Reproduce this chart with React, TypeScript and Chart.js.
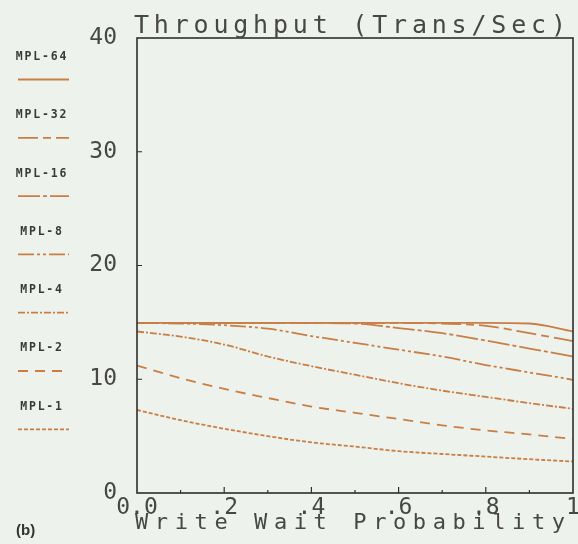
import React, { useEffect, useRef } from 'react';
import { Chart, registerables } from 'chart.js';

Chart.register(...registerables);

// ---- data ----
const xValues = [0, 0.1, 0.2, 0.3, 0.4, 0.5, 0.6, 0.7, 0.8, 0.9, 1.0];
const seriesLabels = ['MPL-64', 'MPL-32', 'MPL-16', 'MPL-8', 'MPL-4', 'MPL-2', 'MPL-1'];
const mpl64 = [14.95, 14.95, 14.95, 14.95, 14.95, 14.95, 14.95, 14.95, 14.95, 14.9, 14.2];
const mpl32 = [14.95, 14.95, 14.95, 14.95, 14.95, 14.95, 14.95, 14.9, 14.7, 14.05, 13.35];
const mpl16 = [14.95, 14.95, 14.95, 14.95, 14.95, 14.9, 14.5, 14.05, 13.4, 12.7, 12.0];
const mpl8 = [14.95, 14.9, 14.75, 14.45, 13.8, 13.2, 12.6, 12.0, 11.25, 10.6, 9.95];
const mpl4 = [14.2, 13.75, 13.05, 12.0, 11.15, 10.4, 9.65, 9.0, 8.45, 7.9, 7.4];
const mpl2 = [11.2, 10.1, 9.15, 8.35, 7.6, 7.05, 6.5, 5.95, 5.5, 5.15, 4.75];
const mpl1 = [7.3, 6.4, 5.65, 5.0, 4.45, 4.08, 3.68, 3.43, 3.2, 2.97, 2.77];
const seriesValues = [mpl64, mpl32, mpl16, mpl8, mpl4, mpl2, mpl1];
const yTickValues = [0, 10, 20, 30, 40];
const xTickLabels = ['0.0', '', '.2', '', '.4', '', '.6', '', '.8', '', '1'];
const chartTitle = 'Throughput (Trans/Sec)';
const xAxisTitle = 'Write Wait Probability';
const panelLabel = '(b)';

// ---- styles ----
const LINE_COLOR = '#c87e45';
const BG = '#eef2ec';
const TEXT = '#474747';
const MONO = '"DejaVu Sans Mono", monospace';
const dashes: number[][] = [
  [],
  [20, 5, 8, 5],
  [22, 3, 4, 3],
  [16, 3, 3, 3, 3, 3],
  [7, 2, 2, 2],
  [10, 7],
  [4, 2],
];

const backgroundPlugin = {
  id: 'bg',
  beforeDraw(chart: any) {
    const { ctx, width, height } = chart;
    ctx.save();
    ctx.fillStyle = BG;
    ctx.fillRect(0, 0, width, height);
    ctx.restore();
  },
};

const framePlugin = {
  id: 'frame',
  afterDraw(chart: any) {
    const { ctx, chartArea: a, scales } = chart;
    ctx.save();
    ctx.strokeStyle = '#2e2e2e';
    ctx.lineWidth = 1.6;
    ctx.strokeRect(a.left, a.top, a.right - a.left, a.bottom - a.top);
    ctx.lineWidth = 1.2;
    ctx.beginPath();
    for (let i = 1; i < xValues.length - 1; i++) {
      const px = scales.x.getPixelForValue(xValues[i]);
      const len = i % 2 === 0 ? 6 : 3;
      ctx.moveTo(px, a.bottom);
      ctx.lineTo(px, a.bottom - len);
    }
    for (let i = 1; i < yTickValues.length - 1; i++) {
      const py = scales.y.getPixelForValue(yTickValues[i]);
      ctx.moveTo(a.left, py);
      ctx.lineTo(a.left + 5, py);
    }
    ctx.stroke();

    // titles
    ctx.fillStyle = TEXT;
    ctx.textBaseline = 'alphabetic';
    ctx.textAlign = 'left';
    ctx.font = `25px ${MONO}`;
    (ctx as any).letterSpacing = '4.8px';
    ctx.fillText(chartTitle, a.left - 3, 33);
    ctx.font = `22px ${MONO}`;
    (ctx as any).letterSpacing = '6.6px';
    ctx.fillText(xAxisTitle, a.left - 2, 529);
    (ctx as any).letterSpacing = '0px';
    ctx.font = 'bold 15px "Liberation Sans", Arial, sans-serif';
    ctx.fillStyle = '#333';
    ctx.fillText(panelLabel, 16, 535);

    // side legend
    chart.data.datasets.forEach((ds: any, i: number) => {
      const ty = 57 + i * 58.3;
      const ly = 79.5 + i * 58.3;
      ctx.font = `bold 11.5px ${MONO}`;
      (ctx as any).letterSpacing = '1.8px';
      ctx.fillStyle = '#3a3a3a';
      ctx.textAlign = 'center';
      ctx.textBaseline = 'middle';
      ctx.fillText(ds.label, 42, ty);
      (ctx as any).letterSpacing = '0px';
      ctx.beginPath();
      ctx.setLineDash(ds.borderDash || []);
      ctx.strokeStyle = ds.borderColor;
      ctx.lineWidth = ds.borderWidth;
      ctx.moveTo(18, ly);
      ctx.lineTo(69, ly);
      ctx.stroke();
      ctx.setLineDash([]);
    });
    ctx.restore();
  },
};

export default function App() {
  const ref = useRef<HTMLCanvasElement | null>(null);
  useEffect(() => {
    if (!ref.current) return;
    const datasets = seriesLabels.map((label, i) => ({
      label,
      data: xValues.map((x, j) => ({ x, y: seriesValues[i][j] })),
      borderColor: LINE_COLOR,
      borderWidth: 1.8,
      borderDash: dashes[i],
      pointRadius: 0,
      fill: false,
      cubicInterpolationMode: 'monotone' as const,
    }));
    const chart = new Chart(ref.current, {
      type: 'line',
      data: { datasets },
      plugins: [backgroundPlugin, framePlugin],
      options: {
        animation: false,
        responsive: false,
        layout: { padding: { top: 38, right: 5, left: 0, bottom: 0 } },
        plugins: { legend: { display: false }, tooltip: { enabled: false }, title: { display: false } },
        scales: {
          x: {
            type: 'linear',
            min: 0,
            max: 1,
            grid: { display: false, drawTicks: false },
            border: { display: false },
            ticks: {
              stepSize: 0.1,
              autoSkip: false,
              maxRotation: 0,
              padding: 1,
              color: TEXT,
              font: { family: MONO, size: 23 },
              callback: (v: any) => xTickLabels[Math.round(Number(v) * 10)] ?? '',
            },
            afterFit: (s: any) => {
              s.height = 51;
              s.paddingLeft = 0;
              s.paddingRight = 0;
            },
          },
          y: {
            min: 0,
            max: 40,
            grid: { display: false, drawTicks: false },
            border: { display: false },
            afterBuildTicks: (s: any) => {
              s.ticks = yTickValues.map((v) => ({ value: v }));
            },
            ticks: {
              padding: 20,
              color: TEXT,
              font: { family: MONO, size: 23 },
            },
            afterFit: (s: any) => {
              s.width = 137;
              s.paddingTop = 0;
              s.paddingBottom = 0;
            },
          },
        },
      },
    });
    return () => chart.destroy();
  }, []);
  return (
    <canvas
      ref={ref}
      width={578}
      height={544}
      style={{ position: 'fixed', left: 0, top: 0, width: 578, height: 544 }}
    />
  );
}
